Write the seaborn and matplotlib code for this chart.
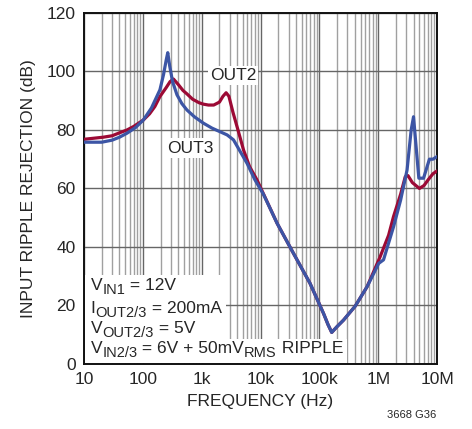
import matplotlib
matplotlib.use("Agg")
import matplotlib.pyplot as plt
import matplotlib.ticker as mticker
from matplotlib.patches import Rectangle
from matplotlib.transforms import IdentityTransform
import seaborn as sns
import pandas as pd

# curve data (frequency in Hz, rejection in dB)
out2_freq = [10, 21, 30, 40, 54, 70, 102, 130, 160, 195, 250, 290, 331, 400, 480,
             562, 700, 900, 1070, 1300, 1600, 2000, 2300, 2600, 2900, 3400, 4200,
             5130, 6500, 8710, 19100, 36300, 69200, 117500, 140000, 162000, 200000,
             257000, 407000, 646000, 1070000, 1500000, 1820000, 2400000, 2880000,
             3200000, 3800000, 5010000, 6000000, 7080000, 8500000, 10000000]
out2_db = [76.8, 77.5, 78.0, 79.0, 80.0, 81.2, 83.4, 85.5, 88.0, 91.4, 94.5, 96.5, 97.4, 95.5, 93.5,
           92.3, 90.5, 89.3, 88.8, 88.5, 88.5, 89.5, 91.5, 92.7, 91.5, 86.0, 79.5,
           73.2, 67.5, 62.9, 48.1, 37.8, 27.6, 17.3, 13.5, 10.8, 12.8,
           15.0, 19.8, 26.4, 36.5, 44.0, 50.4, 58.0, 64.0,
           64.4, 62.0, 60.0, 61.0, 63.0, 65.0, 66.0]

out3_freq = [10, 20, 30, 40, 54, 75, 102, 140, 195, 225, 250, 265, 285, 320, 380,
             460, 562, 750, 1070, 1500, 2040, 2700, 3470, 4400, 5890, 8000, 11200,
             19100, 36300, 69200, 117500, 140000, 162000, 200000, 257000, 407000,
             646000, 1020000, 1230000, 1820000, 2400000, 3090000, 3630000, 3980000,
             4370000, 4900000, 5890000, 7410000, 8510000, 10000000]
out3_db = [75.8, 75.8, 76.5, 77.5, 78.9, 80.8, 83.4, 87.5, 93.7, 99.0, 104.0, 106.4, 102.0, 96.5, 92.0,
           89.0, 86.8, 84.5, 82.3, 80.6, 79.4, 78.3, 76.6, 73.0, 68.6, 63.0, 58.0,
           48.1, 37.8, 27.6, 17.3, 13.5, 10.8, 12.8, 15.0, 19.8,
           26.4, 34.4, 35.6, 46.9, 56.0, 66.3, 80.0, 84.5,
           75.0, 63.5, 63.5, 70.0, 70.0, 70.9]

xticks = [10, 100, 1e3, 1e4, 1e5, 1e6, 1e7]
xtick_labels = ["10", "100", "1k", "10k", "100k", "1M", "10M"]
yticks = [0, 20, 40, 60, 80, 100, 120]

# test conditions: (text, is_subscript) pieces per line
cond_lines = [
    [("V", False), ("IN1", True), (" = 12V", False)],
    [("I", False), ("OUT2/3", True), (" = 200mA", False)],
    [("V", False), ("OUT2/3", True), (" = 5V", False)],
    [("V", False), ("IN2/3", True), (" = 6V + 50mV", False), ("RMS", True), (" RIPPLE", False)],
]
cond_baselines = [25.3, 17.6, 10.7, 3.9]

RED = "#9c0a35"
BLUE = "#3c55a5"
FS = 12.5
FS_SUB = 10.5

sns.set_style("white")
plt.rcParams["font.family"] = ["Liberation Sans", "DejaVu Sans"]

df2 = pd.DataFrame({"freq": out2_freq, "db": out2_db})
df3 = pd.DataFrame({"freq": out3_freq, "db": out3_db})

fig = plt.figure(figsize=(4.72, 4.29), dpi=100)
ax = fig.add_axes([0.178, 0.1515, 0.748, 0.8185])
ax.set_xscale("log")

sns.lineplot(data=df2, x="freq", y="db", color=RED, lw=2.3, ax=ax, zorder=4)
sns.lineplot(data=df3, x="freq", y="db", color=BLUE, lw=2.3, ax=ax, zorder=5)

ax.set_xlim(10, 1e7)
ax.set_ylim(0, 120)
ax.xaxis.set_minor_locator(mticker.LogLocator(base=10, subs=range(2, 10), numticks=20))
ax.xaxis.set_minor_formatter(mticker.NullFormatter())
ax.set_xticks(xticks)
ax.set_xticklabels(xtick_labels)
ax.set_yticks(yticks)

ax.grid(which="major", color="#666666", lw=1.0, zorder=0)
ax.grid(which="minor", axis="x", color="#a0a0a0", lw=1.0, zorder=0)
ax.tick_params(axis="x", which="major", direction="in", length=5, labelsize=FS, pad=6, color="#444444")
ax.tick_params(axis="x", which="minor", direction="in", length=3, color="#444444")
ax.tick_params(axis="y", length=0, labelsize=FS, pad=6)
for s in ax.spines.values():
    s.set_color("#111111")
    s.set_linewidth(1.4)

ax.set_xlabel("FREQUENCY (Hz)", fontsize=FS, labelpad=5)
ax.set_ylabel("INPUT RIPPLE REJECTION (dB)", fontsize=FS, labelpad=8)

box = dict(facecolor="white", edgecolor="none", pad=1.5)
ax.text(3.4e3, 98.5, "OUT2", fontsize=FS, ha="center", va="center", bbox=box, zorder=6)
ax.text(640, 73.8, "OUT3", fontsize=FS, ha="center", va="center", bbox=box, zorder=6)

# conditions block, pieces laid out in pixel coords so subscripts can be large
renderer = fig.canvas.get_renderer()
ident = IdentityTransform()
extents = []
for pieces, yb in zip(cond_lines, cond_baselines):
    x, y = ax.transData.transform((13.0, yb))
    x0 = x
    top = y
    bottom = y
    for s, sub in pieces:
        t = ax.text(x, y - (4 if sub else 0), s, transform=ident,
                    fontsize=FS_SUB if sub else FS, ha="left", va="baseline", zorder=7)
        bb = t.get_window_extent(renderer)
        x += bb.width
        top = max(top, bb.y1)
        bottom = min(bottom, bb.y0)
    extents.append((x0, x, bottom, top))

# white background behind the first three lines and the last line
blk = extents[:3]
x1 = max(e[1] for e in blk) + 4
y_top = max(e[3] for e in blk) + 3
y_mid = extents[3][3] + 1
ax_left, ax_bot = ax.transAxes.transform((0, 0))
ax.add_patch(Rectangle((ax_left + 1, y_mid), x1 - ax_left - 1, y_top - y_mid,
                       transform=ident, facecolor="white", edgecolor="none", zorder=6))
ax.add_patch(Rectangle((ax_left + 1, ax_bot + 1), extents[3][1] + 4 - ax_left - 1, y_mid - ax_bot,
                       transform=ident, facecolor="white", edgecolor="none", zorder=6))

fig.text(0.925, 0.02, "3668 G36", fontsize=8, ha="right", va="bottom")

fig.savefig("out.png", dpi=100)
